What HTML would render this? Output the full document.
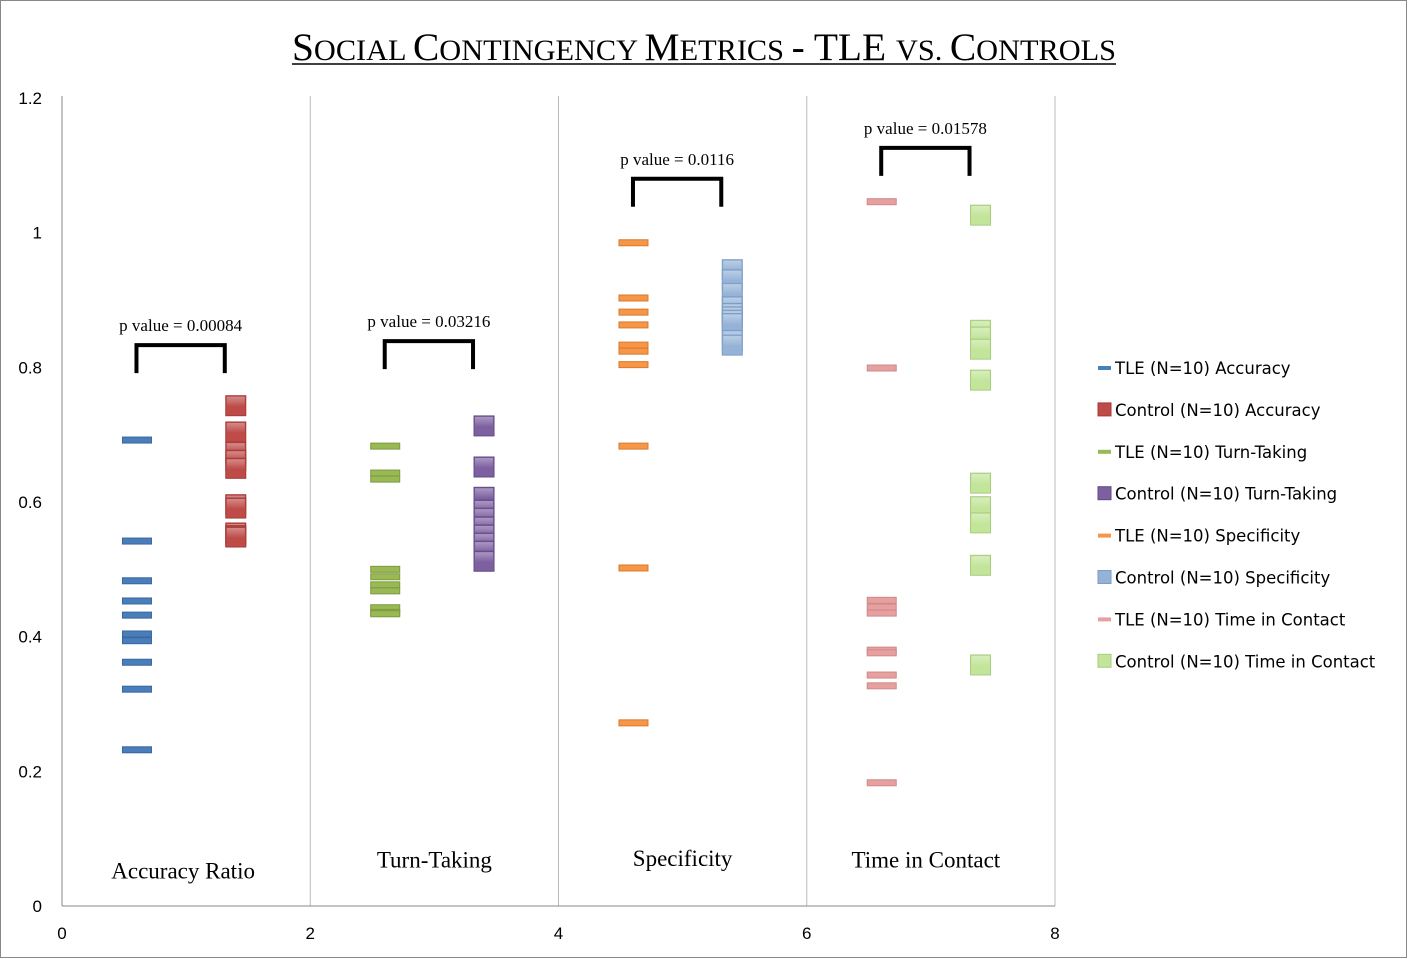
<!DOCTYPE html>
<html><head><meta charset="utf-8"><style>
body{margin:0;background:#fff}
svg{display:block}
.tk{font-family:"Liberation Sans",sans-serif;font-size:17px;fill:#000}
.cat{font-family:"Liberation Serif",serif;font-size:23px;fill:#000;text-anchor:middle}
.pv{font-family:"Liberation Serif",serif;font-size:17px;fill:#000;text-anchor:middle}
.lg{font-family:"DejaVu Sans",sans-serif;font-size:16.5px;fill:#000}
</style></head><body>
<svg id="chart" width="1408" height="959" xmlns="http://www.w3.org/2000/svg">
<defs>
<linearGradient id="gr" x1="0" y1="0" x2="0" y2="1"><stop offset="0" stop-color="#fff" stop-opacity="0.35"/><stop offset="1" stop-color="#fff" stop-opacity="0"/></linearGradient>
</defs>
<rect x="0.5" y="0.5" width="1406" height="957" fill="#fff" stroke="#888"/>
<text x="704" y="60" text-anchor="middle" font-family="Liberation Serif,serif" font-size="39" textLength="824" lengthAdjust="spacingAndGlyphs"><tspan>S</tspan><tspan font-size="30">OCIAL </tspan><tspan>C</tspan><tspan font-size="30">ONTINGENCY </tspan><tspan>M</tspan><tspan font-size="30">ETRICS </tspan><tspan>- TLE </tspan><tspan font-size="30">VS. </tspan><tspan>C</tspan><tspan font-size="30">ONTROLS</tspan></text>
<line x1="292" y1="64" x2="1116" y2="64" stroke="#000" stroke-width="1.5"/>
<g id="axes"></g>
<g id="marks"></g>
<g id="legend"></g>
</svg>
<script>
const xTicks=[0,2,4,6,8];
const yTicks=[0,0.2,0.4,0.6,0.8,1,1.2];
const yTickLabels=["0","0.2","0.4","0.6","0.8","1","1.2"];
const categories=["Accuracy Ratio","Turn-Taking","Specificity","Time in Contact"];
const seriesNames=["TLE (N=10) Accuracy","Control (N=10) Accuracy","TLE (N=10) Turn-Taking","Control (N=10) Turn-Taking","TLE (N=10) Specificity","Control (N=10) Specificity","TLE (N=10) Time in Contact","Control (N=10) Time in Contact"];
const seriesX=[0.6,1.4,2.6,3.4,4.6,5.4,6.6,7.4];
const tleAccuracy=[0.692,0.542,0.483,0.453,0.432,0.404,0.394,0.362,0.322,0.232];
const ctrlAccuracy=[0.743,0.704,0.674,0.662,0.650,0.596,0.591,0.554,0.550,0.548];
const tleTurn=[0.683,0.643,0.634,0.50,0.489,0.477,0.468,0.443,0.436,0.434];
const ctrlTurn=[0.713,0.652,0.607,0.588,0.576,0.563,0.551,0.539,0.527,0.512];
const tleSpec=[0.985,0.903,0.882,0.863,0.833,0.824,0.804,0.683,0.502,0.272];
const ctrlSpec=[0.945,0.930,0.910,0.890,0.880,0.875,0.870,0.865,0.840,0.833];
const tleTime=[1.046,0.799,0.454,0.444,0.435,0.380,0.376,0.343,0.327,0.183];
const ctrlTime=[1.026,0.855,0.845,0.827,0.781,0.628,0.593,0.569,0.506,0.358];
const pValues=["p value = 0.00084","p value = 0.03216","p value = 0.0116","p value = 0.01578"];
const bracketY=[0.833,0.839,1.080,1.126];
const catLabelY=[0.05,0.066,0.068,0.066];

const allSeries=[tleAccuracy,ctrlAccuracy,tleTurn,ctrlTurn,tleSpec,ctrlSpec,tleTime,ctrlTime];
const colors=["#4a7ebb","#be4b48","#98b954","#7d60a0","#f79646","#95b3d7","#e6a0a0","#c3e59a"];
const borders=["#3a66a0","#a33b38","#7d9a40","#624a85","#d87a30","#7b9cc4","#d08888","#a8cc80"];
const X=v=>62+v*(1055-62)/8, Y=v=>906-v*(906-98)/1.2;
const NS="http://www.w3.org/2000/svg";
function mk(t,a,p){const e=document.createElementNS(NS,t);for(const k in a)e.setAttribute(k,a[k]);p.appendChild(e);return e;}
const ax=document.getElementById('axes'),mg=document.getElementById('marks'),lg=document.getElementById('legend');
xTicks.forEach((t,i)=>{
  const l=mk('line',{x1:X(t),x2:X(t),y1:Y(1.2)-2,y2:Y(0),stroke:i==0?'#888':'#bbb','stroke-width':1},ax);
  
  
  const tx=mk('text',{x:X(t),y:939,'text-anchor':'middle',class:'tk'},ax);tx.textContent=t;
  
  
});
const bl=mk('line',{x1:X(0),x2:X(8),y1:Y(0),y2:Y(0),stroke:'#888'},ax);


yTicks.forEach((t,i)=>{
  const tx=mk('text',{x:42,y:Y(t)+6,'text-anchor':'end',class:'tk'},ax);tx.textContent=yTickLabels[i];
  
  
});
categories.forEach((c,i)=>{
  const cx=(X(seriesX[2*i])+X(seriesX[2*i+1]))/2;
  const tx=mk('text',{x:cx+(i==0?-3:(i==3?-5:0)),y:Y(catLabelY[i])+6,class:'cat'},ax);tx.textContent=c;
  
  
  const x1=X(seriesX[2*i]),x2=X(seriesX[2*i+1])-11,yb=Y(bracketY[i]);
  const p=mk('path',{d:`M${x1} ${yb+28}V${yb}H${x2}V${yb+28}`,fill:'none',stroke:'#000','stroke-width':4},ax);
  
  
  const pt=mk('text',{x:(x1+x2)/2,y:yb-14,class:'pv'},ax);pt.textContent=pValues[i];
  
  
});
allSeries.forEach((s,si)=>{
  s.forEach(v=>{
    let r;
    if(si%2==0){r=mk('rect',{x:X(seriesX[si])-14,y:Y(v)-3,width:29,height:6,fill:colors[si],stroke:borders[si],'stroke-width':1},mg);}
    else{r=mk('rect',{x:X(seriesX[si])-10,y:Y(v)-10,width:20,height:20,fill:colors[si],stroke:borders[si],'stroke-width':1},mg);
      mk('rect',{x:X(seriesX[si])-9,y:Y(v)-9,width:18,height:10,fill:'url(#gr)'},mg);}
    
    
  });
});
seriesNames.forEach((n,i)=>{
  const y=368+i*41.9;
  let r;
  if(i%2==0)r=mk('rect',{x:1098,y:y-2,width:13,height:4,fill:colors[i]},lg);
  else r=mk('rect',{x:1098,y:y-7,width:13,height:13,fill:colors[i],stroke:borders[i]},lg);
  
  
  const t=mk('text',{x:1115,y:y+6,class:'lg'},lg);t.textContent=n;
  
  
});
</script>
</body></html>
